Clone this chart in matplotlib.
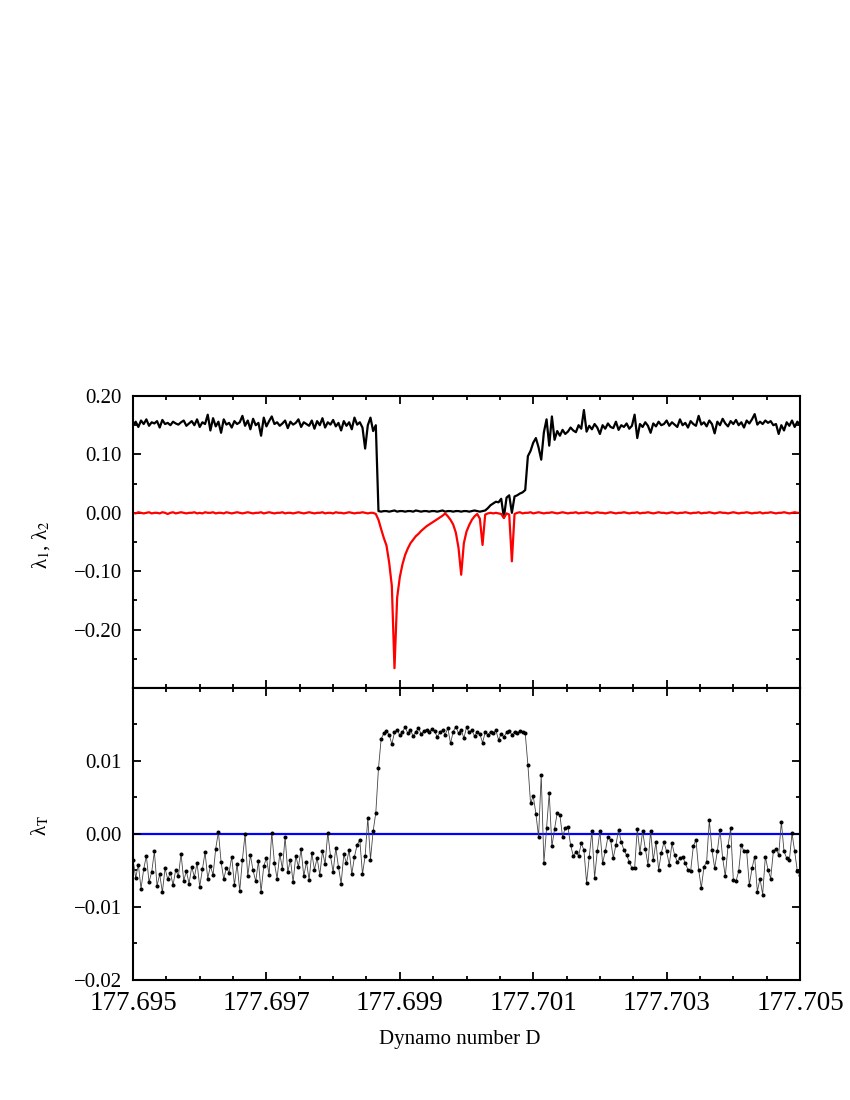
import numpy as np
import matplotlib
matplotlib.use('Agg')
import matplotlib.pyplot as plt
from matplotlib.ticker import MultipleLocator, FuncFormatter

plt.rcParams['font.family'] = ['Liberation Serif', 'DejaVu Serif']
plt.rcParams['mathtext.fontset'] = 'stix'

# dynamo number grid (251 samples, 177.695 .. 177.705)
d_start, d_stop, n_pts = 177.695, 177.705, 251
d_ticks = [177.695, 177.697, 177.699, 177.701, 177.703, 177.705]

# largest Lyapunov exponent lambda_1 (black)
lam1 = [0.150, 0.156, 0.147, 0.158, 0.152, 0.160, 0.149, 0.155, 0.153, 0.157,
        0.146, 0.159, 0.152, 0.154, 0.150, 0.156, 0.153, 0.151, 0.155, 0.158,
        0.149, 0.153, 0.157, 0.150, 0.160, 0.147, 0.155, 0.152, 0.168, 0.141,
        0.162, 0.148, 0.156, 0.137, 0.160, 0.151, 0.154, 0.146, 0.157, 0.152,
        0.155, 0.166, 0.149, 0.158, 0.143, 0.161, 0.150, 0.154, 0.132, 0.163,
        0.148, 0.157, 0.165, 0.152, 0.155, 0.149, 0.153, 0.158, 0.145, 0.156,
        0.151, 0.154, 0.160, 0.147, 0.155, 0.152, 0.149, 0.158, 0.144, 0.157,
        0.150, 0.162, 0.146, 0.155, 0.151, 0.159, 0.148, 0.154, 0.141, 0.157,
        0.149, 0.155, 0.143, 0.163, 0.151, 0.155, 0.146, 0.110, 0.150, 0.163,
        0.140, 0.150,
        0.003, 0.002, 0.003, 0.003, 0.002, 0.003, 0.004, 0.002, 0.003, 0.003,
        0.002, 0.003, 0.003, 0.002, 0.004, 0.003, 0.002, 0.003, 0.003, 0.002,
        0.003, 0.003, 0.002, 0.003, 0.004, 0.002, 0.003, 0.003, 0.002, 0.003,
        0.003, 0.002, 0.003, 0.003, 0.002, 0.003, 0.004, 0.003, 0.002, 0.003,
        0.004,
        0.008, 0.013, 0.016, 0.019, 0.018, 0.024, -0.008, 0.026, 0.030, 0.000,
        0.028, 0.030, 0.033, 0.035, 0.039, 0.097, 0.106, 0.120, 0.128, 0.112,
        0.091, 0.138, 0.160, 0.115, 0.165, 0.125, 0.140, 0.132, 0.142, 0.135,
        0.139, 0.146, 0.141, 0.138, 0.150, 0.144, 0.176, 0.139, 0.149, 0.143,
        0.152, 0.146, 0.135, 0.150, 0.144, 0.153, 0.147, 0.145, 0.156, 0.142,
        0.150, 0.147, 0.153, 0.144, 0.149, 0.168, 0.128, 0.152, 0.147, 0.155,
        0.149, 0.137, 0.153, 0.148, 0.156, 0.150, 0.152, 0.158, 0.149, 0.155,
        0.151, 0.147, 0.160, 0.150, 0.154, 0.146, 0.157, 0.152, 0.149, 0.166,
        0.151, 0.155, 0.148, 0.158, 0.152, 0.136, 0.156, 0.150, 0.161, 0.153,
        0.148, 0.157, 0.152, 0.159, 0.150, 0.155, 0.146, 0.158, 0.153, 0.160,
        0.169, 0.151, 0.156, 0.152, 0.158, 0.154, 0.157, 0.150, 0.152, 0.135,
        0.150, 0.141, 0.155, 0.149, 0.158, 0.147, 0.156, 0.151]

# second exponent lambda_2 (red)
lam2 = [0.000, -0.001, 0.001, 0.000, -0.001, 0.000, 0.001, -0.001, 0.000, 0.000,
        -0.001, 0.001, 0.000, -0.002, 0.000, 0.001, -0.001, 0.000, 0.001, 0.000,
        -0.001, 0.000, 0.000, 0.001, -0.001, 0.000, -0.001, 0.001, 0.000, 0.000,
        0.001, -0.001, 0.000, 0.000, -0.001, 0.001, 0.000, -0.001, 0.000, 0.001,
        0.000, -0.001, 0.000, 0.001, 0.000, -0.001, 0.000, 0.000, 0.001, -0.001,
        0.000, 0.001, 0.000, -0.001, 0.000, 0.000, 0.001, -0.001, 0.000, 0.000,
        -0.001, 0.000, 0.001, 0.000, -0.001, 0.000, 0.001, 0.000, -0.001, 0.000,
        0.000, 0.001, -0.001, 0.000, 0.000, -0.001, 0.001, 0.000, 0.000, -0.001,
        0.000, 0.001, 0.000, -0.001, 0.000, 0.000, 0.001, 0.000, -0.001, 0.000,
        0.000, -0.002,
        -0.012, -0.028, -0.043, -0.056, -0.085, -0.125, -0.266, -0.145, -0.110, -0.088,
        -0.072, -0.061, -0.052, -0.046, -0.040, -0.036, -0.031, -0.027, -0.023, -0.020,
        -0.017, -0.014, -0.011, -0.008, -0.005, -0.001, -0.006, -0.012, -0.020, -0.034,
        -0.060, -0.106, -0.052, -0.032, -0.021, -0.012, -0.006, -0.002, -0.010, -0.055,
        -0.003, -0.001, 0.000, -0.001, 0.000, -0.001, -0.002, -0.009, -0.001, -0.003,
        -0.083,
        -0.002, 0.000, 0.001, -0.001, 0.000, 0.000, 0.001, -0.001, 0.000, 0.001,
        0.000, -0.001, 0.000, 0.000, 0.001, 0.000, -0.001, 0.000, 0.001, 0.000,
        -0.001, 0.000, 0.000, 0.001, -0.001, 0.000, 0.000, 0.001, 0.000, -0.001,
        0.000, 0.001, 0.000, 0.000, -0.001, 0.000, 0.001, 0.000, -0.001, 0.000,
        0.000, 0.001, 0.000, -0.001, 0.000, 0.000, 0.001, -0.001, 0.000, 0.000,
        0.001, 0.000, -0.001, 0.000, 0.001, 0.000, 0.000, -0.001, 0.000, 0.001,
        0.000, -0.001, 0.000, 0.000, 0.001, 0.000, -0.001, 0.000, 0.000, 0.001,
        -0.001, 0.000, 0.000, 0.001, 0.000, -0.001, 0.000, 0.001, 0.000, 0.000,
        -0.001, 0.000, 0.001, 0.000, -0.001, 0.000, 0.000, 0.001, 0.000, -0.001,
        0.000, 0.000, 0.001, -0.001, 0.000, 0.000, 0.001, 0.000, -0.001, 0.000,
        0.000, 0.001, 0.000, -0.001, 0.000, 0.001, 0.000, 0.000]

# transversal exponent lambda_T (dots)
lam_t = [-0.0035, -0.0060, -0.0042, -0.0075, -0.0048, -0.0030, -0.0066, -0.0052, -0.0024, -0.0071,
         -0.0055, -0.0080, -0.0047, -0.0062, -0.0053, -0.0070, -0.0049, -0.0058, -0.0027, -0.0064,
         -0.0051, -0.0068, -0.0045, -0.0059, -0.0040, -0.0072, -0.0048, -0.0025, -0.0061, -0.0044,
         -0.0056, -0.0020, 0.0003, -0.0038, -0.0062, -0.0046, -0.0053, -0.0031, -0.0070, -0.0041,
         -0.0078, -0.0035, 0.0000, -0.0058, -0.0029, -0.0050, -0.0065, -0.0037, -0.0079, -0.0044,
         -0.0033, -0.0056, 0.0002, -0.0040, -0.0061, -0.0027, -0.0048, -0.0004, -0.0052, -0.0035,
         -0.0066, -0.0030, -0.0045, -0.0021, -0.0058, -0.0038, -0.0063, -0.0026, -0.0049, -0.0033,
         -0.0056, -0.0024, -0.0041, 0.0002, -0.0030, -0.0052, -0.0019, -0.0045, -0.0068, -0.0028,
         -0.0040, -0.0022, -0.0055, -0.0031, -0.0015, -0.0008, -0.0055, -0.0030, 0.0022, -0.0035,
         0.0004, 0.0029, 0.0090,
         0.0130, 0.0138, 0.0141, 0.0136, 0.0123, 0.0139, 0.0143, 0.0135, 0.0140, 0.0146,
         0.0138, 0.0142, 0.0134, 0.0140, 0.0145, 0.0137, 0.0141, 0.0143, 0.0139, 0.0144,
         0.0141, 0.0133, 0.0139, 0.0142, 0.0136, 0.0145, 0.0124, 0.0140, 0.0147, 0.0138,
         0.0143, 0.0131, 0.0146, 0.0139, 0.0142, 0.0134, 0.0140, 0.0137, 0.0125, 0.0139,
         0.0136, 0.0140, 0.0138, 0.0142, 0.0129, 0.0137, 0.0133, 0.0139, 0.0141, 0.0136,
         0.0140, 0.0138, 0.0141, 0.0139, 0.0138,
         0.0095, 0.0042, 0.0052, 0.0028, -0.0004, 0.0081, -0.0040, 0.0008, 0.0056, -0.0017,
         0.0007, 0.0029, 0.0026, -0.0004, 0.0008, 0.0010, -0.0015, -0.0030,
         -0.0025, -0.0030, -0.0013, -0.0022, -0.0067, -0.0031, 0.0004, -0.0060, -0.0024, 0.0004,
         -0.0040, -0.0024, -0.0004, -0.0008, -0.0033, -0.0015, 0.0006, -0.0011, -0.0022, -0.0029,
         -0.0038, -0.0047, -0.0047, 0.0007, -0.0026, 0.0004, -0.0020, -0.0042, 0.0004, -0.0036,
         -0.0011, -0.0049, -0.0026, -0.0011, -0.0024, -0.0042, -0.0013, -0.0029, -0.0038, -0.0033,
         -0.0031, -0.0040, -0.0049, -0.0051, -0.0017, -0.0008, -0.0049, -0.0074, -0.0045, -0.0038,
         0.0019, -0.0022, -0.0047, -0.0024, 0.0006, -0.0033, -0.0058, -0.0017, 0.0008, -0.0063,
         -0.0065, -0.0051, -0.0015, -0.0024, -0.0024, -0.0070, -0.0047, -0.0031, -0.0079, -0.0061,
         -0.0083, -0.0031, -0.0049, -0.0061, -0.0024, -0.0020, -0.0029, 0.0017, -0.0024, -0.0033,
         -0.0036, 0.0001, -0.0024, -0.0051, -0.0056]

x = np.linspace(d_start, d_stop, n_pts)


def fmt(v, pos, nd):
    s = '%.*f' % (nd, v)
    return s.replace('-', '\u2212')


def style_axis(ax):
    for sp in ax.spines.values():
        sp.set_linewidth(1.5)
    ax.tick_params(which='both', direction='in', top=True, right=True, width=1.3)
    ax.tick_params(which='major', length=5.5)
    ax.tick_params(which='minor', length=3.2)
    ax.tick_params(axis='y', labelsize=15, pad=8)
    ax.set_xticks(d_ticks)
    ax.xaxis.set_minor_locator(MultipleLocator(0.0005))
    ax.set_xlim(d_start, d_stop)


fig = plt.figure(figsize=(8.5, 11), dpi=100)
ax1 = fig.add_axes([0.1565, 0.3745, 0.7847, 0.2655])
ax2 = fig.add_axes([0.1565, 0.1091, 0.7847, 0.2655])

# top panel
ax1.plot(x, lam1, color='black', lw=1.6)
ax1.plot(x, lam2, color='#ff0000', lw=1.6)
style_axis(ax1)
ax1.set_ylim(-0.30, 0.20)
ax1.set_yticks([-0.2, -0.1, 0.0, 0.1, 0.2])
ax1.yaxis.set_minor_locator(MultipleLocator(0.05))
ax1.yaxis.set_major_formatter(FuncFormatter(lambda v, p: fmt(v, p, 2)))
ax1.tick_params(axis='x', labelbottom=False)
ax1.set_ylabel('\u03bb$_1$, \u03bb$_2$', fontsize=15)
ax1.yaxis.set_label_coords(-0.122, 0.49)

# bottom panel
ax2.axhline(0.0, color='#0000ff', lw=1.6, zorder=1)
ax2.plot(x, lam_t, color='#444444', lw=0.6, marker='o', ms=1.9,
         mfc='black', mec='black', zorder=2)
style_axis(ax2)
ax2.set_ylim(-0.02, 0.02)
ax2.set_yticks([-0.02, -0.01, 0.0, 0.01])
ax2.yaxis.set_minor_locator(MultipleLocator(0.005))
ax2.yaxis.set_major_formatter(FuncFormatter(lambda v, p: fmt(v, p, 2)))
ax2.xaxis.set_major_formatter(FuncFormatter(lambda v, p: '%.3f' % v))
ax2.tick_params(axis='x', labelsize=19.5, pad=8)
ax2.set_ylabel('\u03bb$_\\mathrm{T}$', fontsize=15)
ax2.yaxis.set_label_coords(-0.122, 0.53)
ax2.set_xlabel('Dynamo number D', fontsize=15)
ax2.xaxis.set_label_coords(0.49, -0.17)

fig.savefig('out.png', dpi=100)
